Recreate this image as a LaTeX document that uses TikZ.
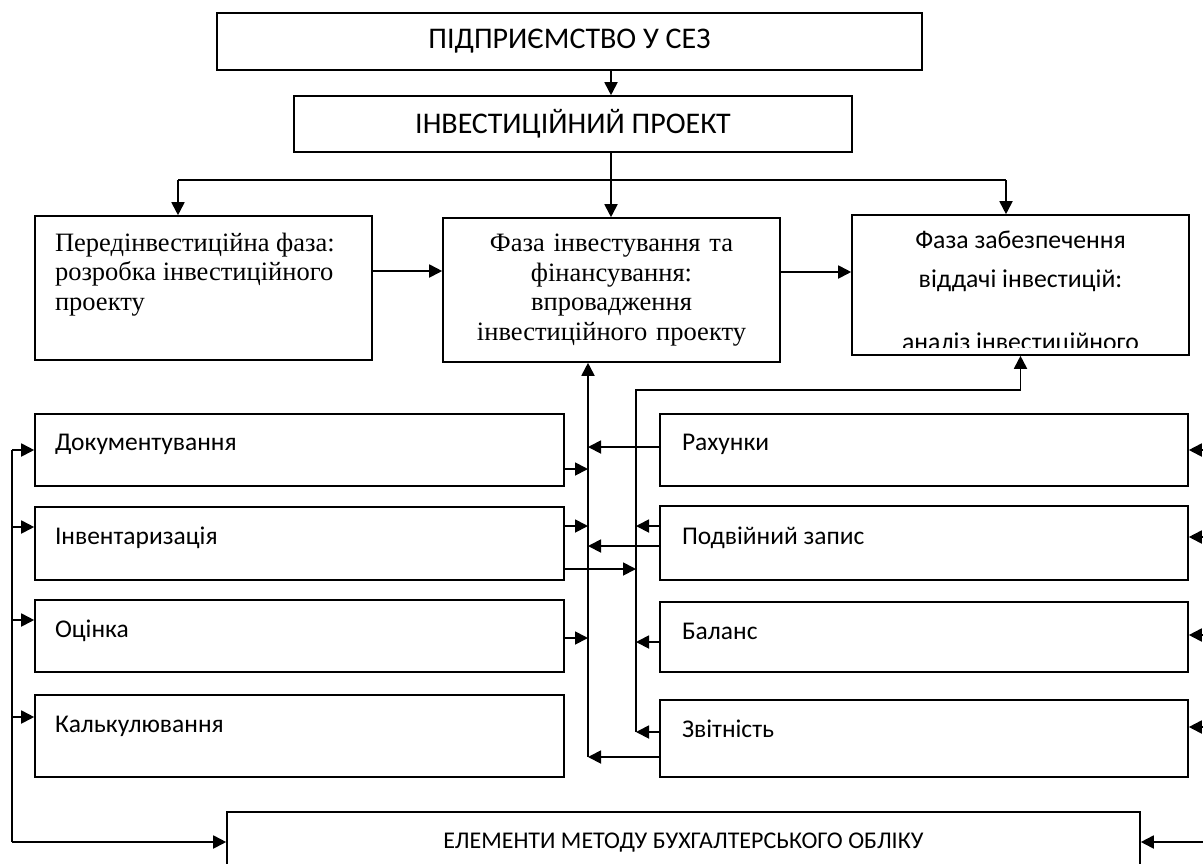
\documentclass[tikz,border=0pt]{standalone}
\usepackage{fontspec}
\setmainfont{Liberation Serif}
\newfontfamily\calfont{Carlito}
\usetikzlibrary{arrows.meta, positioning}

% text block placed at the top of a box: height, width, first baseline, text
\newcommand{\boxtxt}[4]{\parbox[c][#1][t]{#2}{\raggedright\rule{0pt}{#3}#4}}

\begin{document}
\begin{tikzpicture}[x=1pt, y=-1pt, line width=1.8pt,
    box/.style={draw, line width=1.6pt, inner sep=0pt},
    sbox/.style={box, font=\calfont\fontsize{25.5}{30}\selectfont},
    rbox/.style={box, font=\fontsize{26.5}{29.5}\selectfont},
    arr/.style={-{Triangle[length=13pt, width=13pt]}}]
  \useasboundingbox (0,0) rectangle (1203,863);

  % top of the scheme
  \node[box, font=\calfont\fontsize{30}{36}\selectfont, minimum width=705pt, minimum height=57pt] (sez) at (569.5,41.5) {ПІДПРИЄМСТВО У СЕЗ};
  \node[box, font=\calfont\fontsize{30}{36}\selectfont, minimum width=558pt, minimum height=56pt] (proj) at (573,124) {ІНВЕСТИЦІЙНИЙ ПРОЕКТ};

  % phases
  \node[rbox, inner xsep=20pt] (pre) at (203.5,288)
    {\boxtxt{144pt}{297pt}{35pt}{Передінвестиційна фаза:\\ розробка інвестиційного\\ проекту}};
  \node[rbox, text width=317pt, inner xsep=10pt, minimum height=144pt, align=center] (inv) at (611.5,290)
    {Фаза інвестування та\\ фінансування:\\ впровадження\\ інвестиційного проекту};
  \node[box, minimum width=337pt, minimum height=140pt] (ret) at (1020.5,285) {};
  \begin{scope}
    \clip (ret.north west) rectangle ([yshift=8pt]ret.south east);
    \node[font=\calfont\fontsize{25.7}{39}\selectfont, inner sep=0pt] (rettxt) at (ret.center)
      {\parbox[c][140pt][t]{337pt}{\centering\rule{0pt}{33pt}Фаза забезпечення\\ віддачі інвестицій:\\[24pt] аналіз інвестиційного}};
  \end{scope}

  % left column
  \node[sbox, inner xsep=20pt] (doc) at (299.5,450) {\boxtxt{72pt}{489pt}{36pt}{Документування}};
  \node[sbox, inner xsep=20pt] (invz) at (299.5,543.5) {\boxtxt{73pt}{489pt}{37pt}{Інвентаризація}};
  \node[sbox, inner xsep=20pt] (ocin) at (299.5,636) {\boxtxt{72pt}{489pt}{37pt}{Оцінка}};
  \node[sbox, inner xsep=20pt] (kalk) at (299.5,736) {\boxtxt{82pt}{489pt}{37pt}{Калькулювання}};

  % right column
  \node[sbox, inner xsep=22pt] (rah) at (924,450) {\boxtxt{72pt}{484pt}{36pt}{Рахунки}};
  \node[sbox, inner xsep=22pt] (zap) at (924,543) {\boxtxt{74pt}{484pt}{38pt}{Подвійний запис}};
  \node[sbox, inner xsep=22pt] (bal) at (924,637) {\boxtxt{70pt}{484pt}{37pt}{Баланс}};
  \node[sbox, inner xsep=22pt] (zvit) at (924,738.5) {\boxtxt{77pt}{484pt}{37pt}{Звітність}};

  \node[box, font=\calfont\fontsize{24}{30}\selectfont, minimum width=913pt, minimum height=62pt] (elem) at (683.5,843) {ЕЛЕМЕНТИ МЕТОДУ БУХГАЛТЕРСЬКОГО ОБЛІКУ};

  \coordinate (split) at (611,180);
  \coordinate (brL) at (178,180);
  \coordinate (brR) at (1006,180);
  \coordinate (busA) at (588,757);
  \coordinate (busB) at (636,732);
  \coordinate (bend) at (636,390);
  \coordinate (busL) at (12,842);
  \coordinate (busR) at (1203,842);

  % connectors at the top
  \draw[arr] (sez.south -| split) -- (proj.north -| split);
  \draw (proj.south -| split) -- (split);
  \draw (brL) -- (brR);
  \draw[arr] (brL) -- (brL |- pre.north);
  \draw[arr] (split) -- (split |- inv.north);
  \draw[arr] (brR) -- (brR |- ret.north);
  \draw[arr] (pre.east |- 0,271) -- (inv.west |- 0,271);
  \draw[arr] (inv.east |- 0,272) -- (ret.west |- 0,272);

  % buses between the columns
  \draw[arr] (busA) -- (busA |- inv.south);
  \draw[arr] (busB) -- (bend) -| (ret.south);
  \draw[arr] (doc.east |- 0,469) -- (busA |- 0,469);
  \draw[arr] (invz.east |- 0,526) -- (busA |- 0,526);
  \draw[arr] (invz.east |- 0,569) -- (busB |- 0,569);
  \draw[arr] (ocin.east |- 0,638) -- (busA |- 0,638);
  \draw[arr] (rah.west |- 0,447) -- (busA |- 0,447);
  \draw[arr] (zap.west |- 0,526) -- (busB |- 0,526);
  \draw[arr] (zap.west |- 0,546) -- (busA |- 0,546);
  \draw[arr] (bal.west |- 0,642) -- (busB |- 0,642);
  \draw[arr] (zvit.west |- 0,732) -- (busB);
  \draw[arr] (zvit.west |- 0,757) -- (busA);

  % outer buses
  \draw (busL) -- (busL |- 0,450);
  \draw[arr] (busL |- 0,450) -- (doc.west |- 0,450);
  \draw[arr] (busL |- 0,527) -- (invz.west |- 0,527);
  \draw[arr] (busL |- 0,620) -- (ocin.west |- 0,620);
  \draw[arr] (busL |- 0,717) -- (kalk.west |- 0,717);
  \draw[arr] (busL) -- (busL -| elem.west);
  \draw[arr] (busR |- 0,450) -- (rah.east |- 0,450);
  \draw[arr] (busR |- 0,537) -- (zap.east |- 0,537);
  \draw[arr] (busR |- 0,635) -- (bal.east |- 0,635);
  \draw[arr] (busR |- 0,727) -- (zvit.east |- 0,727);
  \draw[arr] (busR) -- (busR -| elem.east);
\end{tikzpicture}
\end{document}
